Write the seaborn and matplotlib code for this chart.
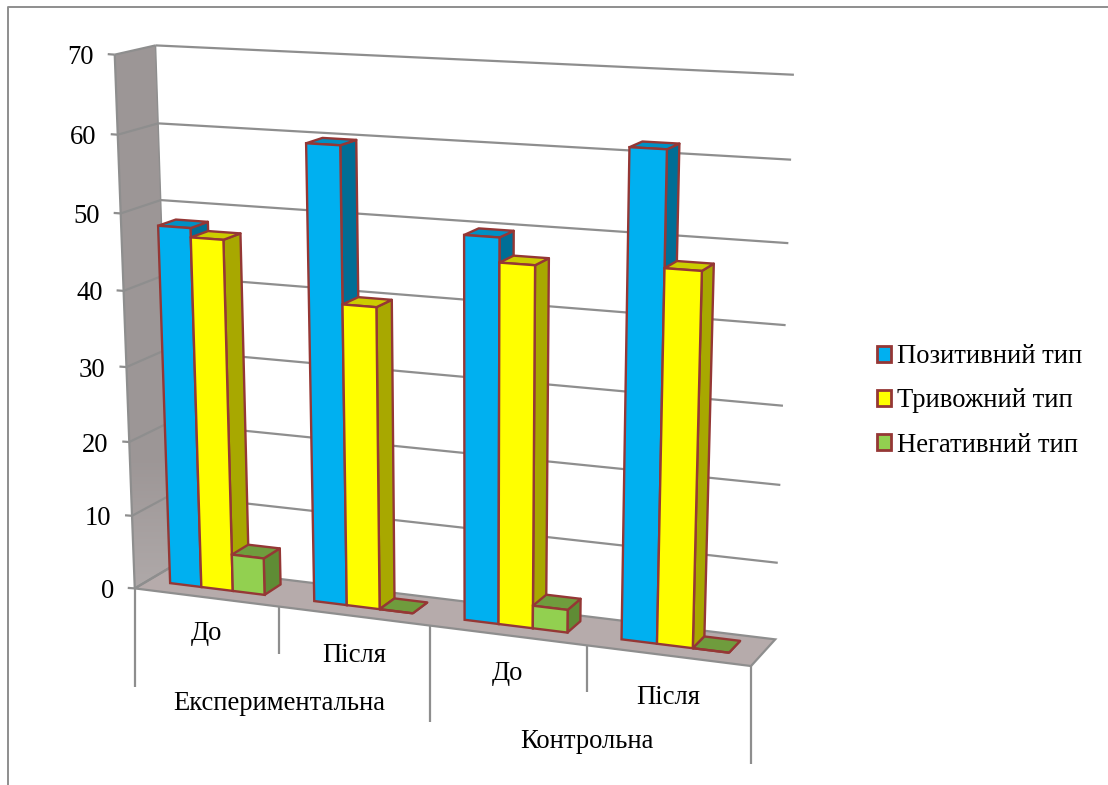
import numpy as np
import pandas as pd
import seaborn as sns
import matplotlib
matplotlib.use("Agg")
import matplotlib.pyplot as plt
from matplotlib.patches import Patch, Polygon
from matplotlib.transforms import Affine2D, Transform

W, H = 1108, 785

# Survey results, percent of respondents
groups = ["Експериментальна", "Контрольна"]
stages = ["До", "Після", "До", "Після"]
series = ["Позитивний тип", "Тривожний тип", "Негативний тип"]
positive = [48.0, 59.7, 49.6, 61.5]
anxious = [46.8, 39.7, 46.5, 47.3]
negative = [5.0, 0.0, 3.0, 0.0]
y_ticks = [0, 10, 20, 30, 40, 50, 60, 70]

# Face colours per series: front, side, top
front_colors = ["#00B0F0", "#FFFF00", "#92D050"]
side_colors = ["#006E96", "#A8A800", "#5F8C35"]
top_colors = ["#0090C4", "#CCCC00", "#6F9C3D"]
edge_color = "#953735"
grid_color = "#8E8E8E"
FONT_SIZE = 19.2

sns.set_theme(style="white")
plt.rcParams["font.family"] = ["Liberation Serif", "DejaVu Serif"]

# Camera calibration: (category, value, depth) -> canvas position
front_edge = [
    (0, 0, 0, 135, 586), (0, 70, 0, 114, 56), (0, 60, 0, 117, 135), (0, 50, 0, 120, 214),
    (0, 40, 0, 124, 291), (0, 30, 0, 127, 367), (0, 20, 0, 129, 441), (0, 10, 0, 132, 514),
]
calibration = front_edge * 3 + [
    (1, 0, 0, 279, 608), (2, 0, 0, 430, 628),
    (3, 0, 0, 588, 648), (4, 0, 0, 753, 669),
    (0, 70, 1, 158, 43), (0, 60, 1, 159, 120), (0, 50, 1, 162, 197),
    (0, 40, 1, 164, 277), (0, 30, 1, 166, 352), (0, 20, 1, 168, 427),
    (0, 10, 1, 170, 500), (0, 0, 1, 171, 568), (4, 70, 1, 794, 75),
    (4, 60, 1, 792, 160), (4, 50, 1, 788, 243), (4, 40, 1, 785, 325),
    (4, 30, 1, 782, 405), (4, 20, 1, 780, 484), (4, 10, 1, 777, 561),
    (4, 0, 1, 774, 636),
]


def solve_camera(points):
    rows = []
    for x, y, z, u, v in points:
        rows.append([x, y, z, 1, 0, 0, 0, 0, -u * x, -u * y, -u * z, -u])
        rows.append([0, 0, 0, 0, x, y, z, 1, -v * x, -v * y, -v * z, -v])
    # Normalise columns so the value axis does not dominate the fit
    a = np.array(rows, dtype=float)
    scale = np.abs(a).max(axis=0)
    _, _, vt = np.linalg.svd(a / scale)
    return (vt[-1] / scale).reshape(3, 4)


CAMERA = solve_camera(calibration)


class DepthPlane(Transform):
    """Project data drawn on a plane of constant depth onto the canvas."""

    input_dims = output_dims = 2

    def __init__(self, plane_depth, x_shift=0.0):
        super().__init__()
        self.plane_depth = plane_depth
        self.x_shift = x_shift

    def transform_non_affine(self, values):
        values = np.asarray(values, dtype=float)
        n = len(values)
        world = np.column_stack(
            [values[:, 0] + self.x_shift, values[:, 1], np.full(n, self.plane_depth), np.ones(n)]
        )
        projected = world @ CAMERA.T
        return projected[:, :2] / projected[:, 2:]


def project(x, y, z):
    p = CAMERA @ np.array([x, y, z, 1.0])
    return p[:2] / p[2]


fig = plt.figure(figsize=(W / 100, H / 100), dpi=100)
ax = fig.add_axes([0, 0, 1, 1])

canvas = Affine2D().scale(1, -1).translate(0, H)

Z_FRONT, Z_BACK = 0.35, 0.80
X_CENTER = 0.485
TEXT_DROP = 3

table = pd.DataFrame(
    {
        "slot": list(range(4)) * 3,
        "value": positive + anxious + negative,
        "series": sum([[s] * 4 for s in series], []),
    }
)
sns.barplot(
    data=table, x="slot", y="value", hue="series", hue_order=series, order=[0, 1, 2, 3],
    palette=front_colors, width=0.66, gap=0, saturation=1, legend=False, ax=ax,
    edgecolor=edge_color, linewidth=1.7,
)
ax.set_axis_off()

front_plane = DepthPlane(Z_FRONT, X_CENTER) + canvas


def add_canvas_poly(points, zorder, **style):
    patch = Polygon(points, closed=True, transform=canvas, clip_on=False, zorder=zorder, **style)
    ax.add_patch(patch)
    return patch


def add_canvas_line(a, b, lw=1.6, zorder=2):
    ax.plot([a[0], b[0]], [a[1], b[1]], color=grid_color, lw=lw, transform=canvas,
            clip_on=False, zorder=zorder, solid_capstyle="butt")


# Chart frame along the left and top edges
ax.plot([8, 8, W], [H, 7, 7], color=grid_color, lw=1.4, transform=canvas, clip_on=False, zorder=1)

# Left wall with a vertical gradient, lighter toward the floor
wall = add_canvas_poly(
    [project(0, 0, 0), project(0, 70, 0), project(0, 70, 1), project(0, 0, 1)],
    0.5, facecolor="none", edgecolor="none",
)
ramp = np.concatenate([np.full(75, 0.615), np.linspace(0.615, 0.69, 25)]).reshape(-1, 1)
rgb = np.dstack([ramp, ramp - 0.025, ramp - 0.025])
image = ax.imshow(rgb, extent=(100, 180, 595, 40), transform=canvas, aspect="auto",
                  interpolation="bilinear", zorder=1)
image.set_clip_path(wall)

# Floor
add_canvas_poly(
    [project(0, 0, 0), project(4, 0, 0), project(4, 0, 1), project(0, 0, 1)],
    1.5, facecolor="#B6ABAB", edgecolor=grid_color, linewidth=1.6,
)

# Gridlines on the back and left walls, with tick marks and value labels
for tick in y_ticks:
    if tick > 0:
        add_canvas_line(project(0, tick, 1), project(4, tick, 1))
    add_canvas_line(project(0, tick, 0), project(0, tick, 1))
    u, v = project(0, tick, 0)
    add_canvas_line((u - 7, v - 0.5), (u, v))
    ax.text(u - 21, v + TEXT_DROP, str(tick), transform=canvas, ha="right", va="center",
            fontsize=FONT_SIZE, color="black", clip_on=False)
add_canvas_line(project(0, 0, 0), project(0, 70, 0))
add_canvas_line(project(0, 70, 1), project(0, 0, 1), lw=1.0)

# Side and top faces of every bar, painted left to right behind its front face
order = 10
for slot in range(4):
    for k, bars in enumerate(ax.containers):
        bar = bars[slot]
        x0, x1 = bar.get_x() + X_CENTER, bar.get_x() + bar.get_width() + X_CENTER
        value = bar.get_height()
        add_canvas_poly(
            [project(x1, 0, Z_FRONT), project(x1, value, Z_FRONT),
             project(x1, value, Z_BACK), project(x1, 0, Z_BACK)],
            order, facecolor=side_colors[k], edgecolor=edge_color, linewidth=1.7, joinstyle="round",
        )
        add_canvas_poly(
            [project(x0, value, Z_FRONT), project(x1, value, Z_FRONT),
             project(x1, value, Z_BACK), project(x0, value, Z_BACK)],
            order + 0.1, facecolor=top_colors[k], edgecolor=edge_color, linewidth=1.7, joinstyle="round",
        )
        bar.set_transform(front_plane)
        bar.set_clip_on(False)
        bar.set_zorder(order + 0.2)
        order += 1

# Category axis below the floor
tick_drop = [99, 47, 96, 47, 98]
for slot, drop in enumerate(tick_drop):
    u, v = project(slot, 0, 0)
    add_canvas_line((u, v), (u, v + drop))

stage_positions = [(206, 631), (354, 653), (507, 671), (668, 695)]
for label, (u, v) in zip(stages, stage_positions):
    ax.text(u, v + TEXT_DROP, label, transform=canvas, ha="center", va="center",
            fontsize=FONT_SIZE, color="black")
group_positions = [(279, 701), (587, 738)]
for label, (u, v) in zip(groups, group_positions):
    ax.text(u, v + TEXT_DROP, label, transform=canvas, ha="center", va="center",
            fontsize=FONT_SIZE, color="black")

ax.set_xlim(0, 1)
ax.set_ylim(0, 1)

# Legend on the right
handles = [Patch(facecolor=c, edgecolor=edge_color, linewidth=2, label=s)
           for c, s in zip(front_colors, series)]
ax.legend(
    handles=handles, loc="center left", bbox_to_anchor=(877 / W, 1 - 401 / H),
    bbox_transform=fig.transFigure, frameon=False, fontsize=FONT_SIZE, labelcolor="black",
    handlelength=0.52, handleheight=0.52, handletextpad=0.22, labelspacing=0.72, borderpad=0,
    borderaxespad=0,
)

fig.savefig("out.png", dpi=100, facecolor="white")
